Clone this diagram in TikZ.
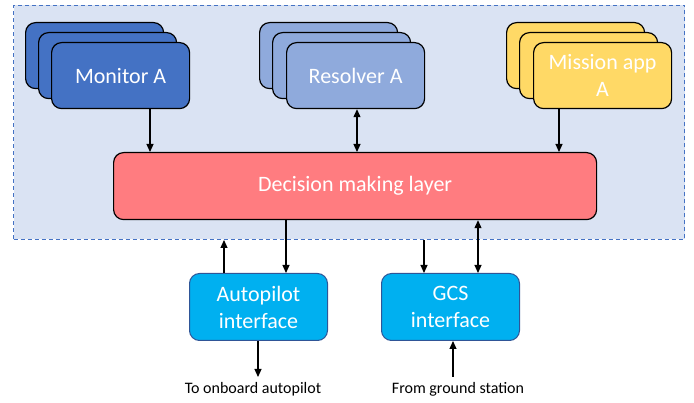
\documentclass[tikz,border=0pt]{standalone}
\usepackage{fontspec}
\setmainfont{Carlito}
\usetikzlibrary{arrows.meta}
\definecolor{contfill}{HTML}{DAE3F3}
\definecolor{contline}{HTML}{4472C4}
\definecolor{moncol}{HTML}{4472C4}
\definecolor{rescol}{HTML}{8FAADC}
\definecolor{miscol}{HTML}{FFD966}
\definecolor{deccol}{HTML}{FF7C80}
\definecolor{ifcol}{HTML}{00B0F0}
\definecolor{ifline}{HTML}{2F5597}
\tikzset{
  card/.style={draw=black, line width=1.2pt, rounded corners=10pt, anchor=north west,
    minimum width=138pt, minimum height=66pt, inner sep=0pt, text=white,
    font=\fontsize{22}{27}\selectfont, align=center},
  ifbox/.style={draw=ifline, line width=1pt, rounded corners=10pt, anchor=north west,
    fill=ifcol, minimum width=138pt, minimum height=67pt, inner sep=0pt, text=white,
    font=\fontsize{22}{27}\selectfont, align=center},
  arr/.style={line width=1.1pt, -{Triangle[length=8pt,width=7pt]}},
  darr/.style={line width=1.1pt, {Triangle[length=8pt,width=7pt]}-{Triangle[length=8pt,width=7pt]}},
  lbl/.style={font=\fontsize{16}{18}\selectfont, text=black, inner sep=0pt}
}
\begin{document}
\begin{tikzpicture}[x=1pt,y=-1pt]
\useasboundingbox (0,0) rectangle (694,403);
% container
\node[draw=contline, fill=contfill, dash pattern=on 4pt off 3pt, line width=1pt,
  anchor=north west, minimum width=671pt, minimum height=234pt, inner sep=0pt] (cont) at (13,5) {};
% monitor stack
\node[card, fill=moncol] (mon3) at (25,22) {};
\node[card, fill=moncol] (mon2) at (38,32) {};
\node[card, fill=moncol] (mon) at (51,42) {Monitor A};
% resolver stack
\node[card, fill=rescol] (res3) at (259,22) {};
\node[card, fill=rescol] (res2) at (272,32) {};
\node[card, fill=rescol] (res) at (286,42) {Resolver A};
% mission stack
\node[card, fill=miscol] (mis3) at (506,22) {};
\node[card, fill=miscol] (mis2) at (519,32) {};
\node[card, fill=miscol] (mis) at (533,42) {Mission app\\A};
% decision layer
\node[card, fill=deccol, minimum width=483pt, minimum height=67pt] (dec) at (113,152) {Decision making layer};
% interfaces
\node[ifbox] (ap) at (189,273) {Autopilot\\interface};
\node[ifbox] (gcs) at (381,273) {GCS\\interface};
% labels
\node[lbl] (toap) at (253,389) {To onboard autopilot};
\node[lbl] (fromgs) at (458,389) {From ground station};
\coordinate (aptip) at (258,377);
\coordinate (gsbase) at (453,377);
% arrows top
\draw[arr] (mon.south -| 150,0) -- (dec.north -| 150,0);
\draw[darr] (res.south -| 357,0) -- (dec.north -| 357,0);
\draw[arr] (mis.south -| 559,0) -- (dec.north -| 559,0);
% arrows bottom
\draw[arr] (ap.north -| 224,0) -- (cont.south -| 224,0);
\draw[arr] (dec.south -| 286,0) -- (ap.north -| 286,0);
\draw[arr] (cont.south -| 424,0) -- (gcs.north -| 424,0);
\draw[darr] (dec.south -| 478,0) -- (gcs.north -| 478,0);
\draw[arr] (ap.south -| 258,0) -- (aptip);
\draw[arr] (gsbase) -- (gcs.south -| 453,0);
\end{tikzpicture}
\end{document}
